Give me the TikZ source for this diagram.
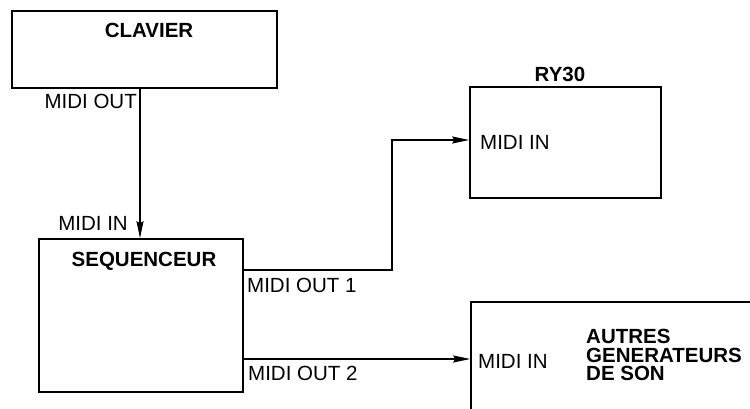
\documentclass[tikz,border=0pt]{standalone}
\usepackage{fontspec}
\setmainfont{Liberation Sans}
\usetikzlibrary{arrows.meta}
\tikzset{
  box/.style={draw, line width=1.6pt, inner sep=0pt},
  lbl/.style={inner sep=0pt, font=\fontsize{20.5}{18.5}\selectfont},
  ttl/.style={inner sep=0pt, font=\fontsize{20.5}{18.5}\selectfont\bfseries},
  conn/.style={line width=1.5pt, -{Stealth[length=17pt,width=7pt,inset=2pt]}}
}
\begin{document}
\begin{tikzpicture}[x=1pt,y=-1pt]
\clip (0,0) rectangle (750,409);
\fill[white] (0,0) rectangle (750,409);
% boxes
\node[box, minimum width=265pt, minimum height=77pt] (clav) at (144.5,49.5) {};
\node[box, minimum width=204pt, minimum height=153pt] (seq) at (141,315.5) {};
\node[box, minimum width=191pt, minimum height=111pt] (ry) at (565.5,142.5) {};
\node[box, minimum width=309pt, minimum height=138pt] (aut) at (625.5,371) {};
% titles
\node[ttl] (tclav) at (149,30) {CLAVIER};
\node[ttl] (tseq) at (144,261) {SEQUENCEUR};
\node[ttl] (try) at (560,74) {RY30};
\node[ttl, anchor=west, align=left] (taut) at (586,355) {AUTRES\\GENERATEURS\\DE SON};
% labels
\node[lbl, anchor=east] (lout) at (137,101) {MIDI OUT};
\node[lbl, anchor=east] (lin) at (128,223) {MIDI IN};
\node[lbl, anchor=west] (lout1) at (247,285) {MIDI OUT 1};
\node[lbl, anchor=west] (lout2) at (248,373) {MIDI OUT 2};
\node[lbl, anchor=west] (lry) at (480,142) {MIDI IN};
\node[lbl, anchor=west] (laut) at (478,361) {MIDI IN};
% connector helpers
\coordinate (c1) at (140,0);
\coordinate (o1) at (0,270);
\coordinate (k1) at (392,140);
\coordinate (o2) at (0,359);
% connectors
\draw[conn] (clav.south -| c1) -- (seq.north -| c1);
\draw[conn] (seq.east |- o1) -| (k1) -- (ry.west |- k1);
\draw[conn] (seq.east |- o2) -- (aut.west |- o2);
\end{tikzpicture}
\end{document}
